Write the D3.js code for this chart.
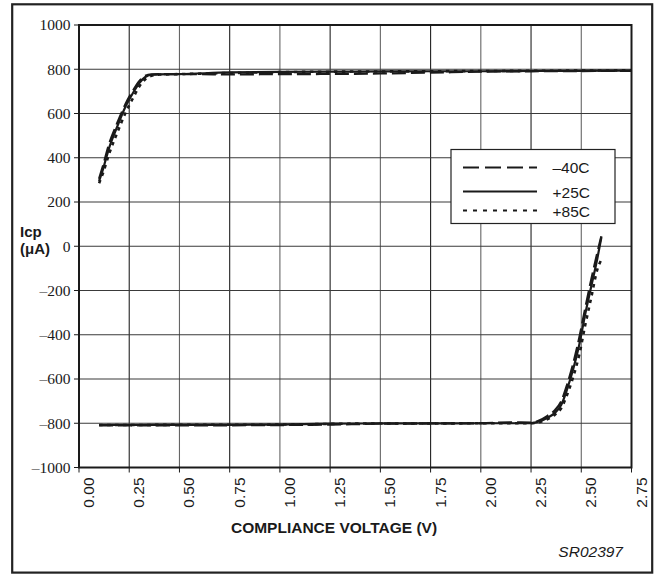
<!DOCTYPE html>
<html><head><meta charset="utf-8">
<script src="https://cdn.jsdelivr.net/npm/d3@7"></script>
<style>
html,body{margin:0;padding:0;background:#fff;}
svg{display:block;}
</style></head>
<body>
<svg id="chart" width="656" height="575"></svg>
<script>
// ---- data ----
const xTicks = [0, 0.25, 0.5, 0.75, 1.0, 1.25, 1.5, 1.75, 2.0, 2.25, 2.5, 2.75];
const xTickLabels = ["0.00","0.25","0.50","0.75","1.00","1.25","1.50","1.75","2.00","2.25","2.50","2.75"];
const yTicks = [1000, 800, 600, 400, 200, 0, -200, -400, -600, -800, -1000];
const yTickLabels = ["1000","800","600","400","200","0","\u2013200","\u2013400","\u2013600","\u2013800","\u20131000"];

const seriesNames = ["\u201340C", "+25C", "+85C"];

const upperV   = [0.10, 0.12, 0.15, 0.19, 0.23, 0.27, 0.30, 0.33, 0.36, 0.40, 0.50, 0.75, 1.00, 1.25, 1.50, 1.75, 2.00, 2.25, 2.50, 2.75];
const upperI40 = [305, 365, 462, 556, 640, 705, 746, 770, 777, 778, 778, 777, 778, 779, 781, 785, 789, 791, 792, 793];
const upperI25 = [295, 350, 445, 540, 628, 695, 738, 765, 775, 777, 778, 786, 788, 789, 790, 791, 791, 792, 793, 794];
const upperI85 = [285, 332, 418, 512, 600, 672, 722, 755, 770, 776, 778, 783, 787, 789, 790, 791, 792, 793, 794, 795];

const lowerV   = [0.10, 0.25, 0.50, 0.75, 1.00, 1.25, 1.50, 1.75, 2.00, 2.15, 2.25, 2.29, 2.33, 2.37, 2.40, 2.43, 2.46, 2.49, 2.52, 2.55, 2.58, 2.60];
const lowerI40 = [-810, -810, -809, -809, -808, -806, -802, -801, -800, -796, -797, -788, -768, -740, -702, -625, -530, -415, -280, -150, -30, 45];
const lowerI25 = [-808, -808, -807, -807, -806, -802, -801, -801, -800, -800, -799, -792, -776, -752, -718, -645, -555, -445, -305, -180, -55, 40];
const lowerI85 = [-808, -808, -807, -807, -806, -803, -801, -801, -800, -800, -800, -795, -782, -760, -732, -670, -590, -490, -355, -230, -105, -60];

const xTitle = "COMPLIANCE VOLTAGE (V)";
const yTitle1 = "Icp";
const yTitle2 = "(\u03bcA)";
const figId = "SR02397";

// ---- layout ----
const svg = d3.select("#chart");
const L = 79, R = 631.5, T = 25, B = 467.5;
const x = d3.scaleLinear().domain([0, 2.75]).range([L, R]);
const y = d3.scaleLinear().domain([-1000, 1000]).range([B, T]);
const ink = "#1a1a1a";
const sans = "'Liberation Sans', Arial, sans-serif";
const serif = "'Liberation Serif', 'Times New Roman', 'DejaVu Serif', serif";

// outer border
svg.append("rect").attr("x", 12.2).attr("y", 4.3).attr("width", 640).attr("height", 568.3)
  .attr("fill", "none").attr("stroke", "#222").attr("stroke-width", 2.2);

// grid
const g = svg.append("g");
g.selectAll(".vg").data(xTicks.slice(1, -1)).enter().append("line")
  .attr("x1", d => x(d)).attr("x2", d => x(d)).attr("y1", T).attr("y2", B)
  .attr("stroke", (d, i) => i % 2 === 0 ? "#222" : "#666").attr("stroke-width", 1.1);
g.selectAll(".hg").data(yTicks.slice(1, -1)).enter().append("line")
  .attr("x1", L).attr("x2", R).attr("y1", d => y(d)).attr("y2", d => y(d))
  .attr("stroke", "#3a3a3a").attr("stroke-width", 1.1);

// y axis ticks & labels
g.selectAll(".yt").data(yTicks).enter().append("line")
  .attr("x1", L - 5).attr("x2", L).attr("y1", d => y(d)).attr("y2", d => y(d))
  .attr("stroke", ink).attr("stroke-width", 1);
g.selectAll(".yl").data(yTicks).enter().append("text")
  .attr("x", 70.5).attr("y", d => y(d)).attr("dy", "0.34em")
  .attr("text-anchor", "end").style("font-family", serif).attr("font-size", 15.5)
  .attr("fill", ink).text((d, i) => yTickLabels[i]);

// x axis ticks & labels
g.selectAll(".xt").data(xTicks).enter().append("line")
  .attr("x1", d => x(d)).attr("x2", d => x(d)).attr("y1", B).attr("y2", B + 5)
  .attr("stroke", ink).attr("stroke-width", 1);
g.selectAll(".xl").data(xTicks).enter().append("text")
  .attr("transform", d => `translate(${x(d) + 15},${477.5}) rotate(-90)`)
  .attr("text-anchor", "end").style("font-family", sans).attr("font-size", 15.5)
  .attr("fill", ink).text((d, i) => xTickLabels[i]);

// plot frame
svg.append("rect").attr("x", L).attr("y", T).attr("width", R - L).attr("height", B - T)
  .attr("fill", "none").attr("stroke", ink).attr("stroke-width", 2);

// curves
const line = d3.line().x(d => x(d[0])).y(d => y(d[1])).curve(d3.curveMonotoneX);
const styles = [
  {dash: "14,5", w: 2.3},
  {dash: null, w: 2.2},
  {dash: "3.5,4.5", w: 2.6}
];
const upperSets = [upperI40, upperI25, upperI85];
const lowerSets = [lowerI40, lowerI25, lowerI85];
const curves = svg.append("g");
[2, 0, 1].forEach(k => {
  [[upperV, upperSets[k]], [lowerV, lowerSets[k]]].forEach(([vs, is]) => {
    const pts = vs.map((v, i) => [v, is[i]]);
    const p = curves.append("path").attr("d", line(pts)).attr("fill", "none")
      .attr("stroke", ink).attr("stroke-width", styles[k].w);
    if (styles[k].dash) p.attr("stroke-dasharray", styles[k].dash);
  });
});

// legend
const lg = svg.append("g");
lg.append("rect").attr("x", 451).attr("y", 149.5).attr("width", 164).attr("height", 74)
  .attr("fill", "#fff").attr("stroke", "#222").attr("stroke-width", 1.2);
const legY = [167.5, 191.5, 210.5];
const legTY = [172.5, 198, 217];
const legStyles = [{dash: "16,6", w: 2}, {dash: null, w: 2}, {dash: "4,6", w: 2}];
seriesNames.forEach((name, k) => {
  const l = lg.append("line").attr("x1", 463).attr("x2", 537).attr("y1", legY[k]).attr("y2", legY[k])
    .attr("stroke", ink).attr("stroke-width", legStyles[k].w);
  if (legStyles[k].dash) l.attr("stroke-dasharray", legStyles[k].dash);
  lg.append("text").attr("x", 552.5).attr("y", legTY[k]).style("font-family", sans)
    .attr("font-size", 15.5).attr("fill", ink).text(name);
});

// titles
svg.append("text").attr("x", 334).attr("y", 533).attr("text-anchor", "middle")
  .style("font-family", sans).attr("font-weight", "bold").attr("font-size", 15.5)
  .attr("fill", ink).text(xTitle);
svg.append("text").attr("x", 20).attr("y", 236.5).style("font-family", sans)
  .attr("font-weight", "bold").attr("font-size", 15).attr("fill", ink).text(yTitle1);
svg.append("text").attr("x", 20).attr("y", 254).style("font-family", sans)
  .attr("font-weight", "bold").attr("font-size", 15).attr("fill", ink).text(yTitle2);
svg.append("text").attr("x", 623).attr("y", 557).attr("text-anchor", "end")
  .style("font-family", sans).attr("font-style", "italic").attr("font-size", 15.5)
  .attr("fill", ink).text(figId);
</script>
</body></html>
